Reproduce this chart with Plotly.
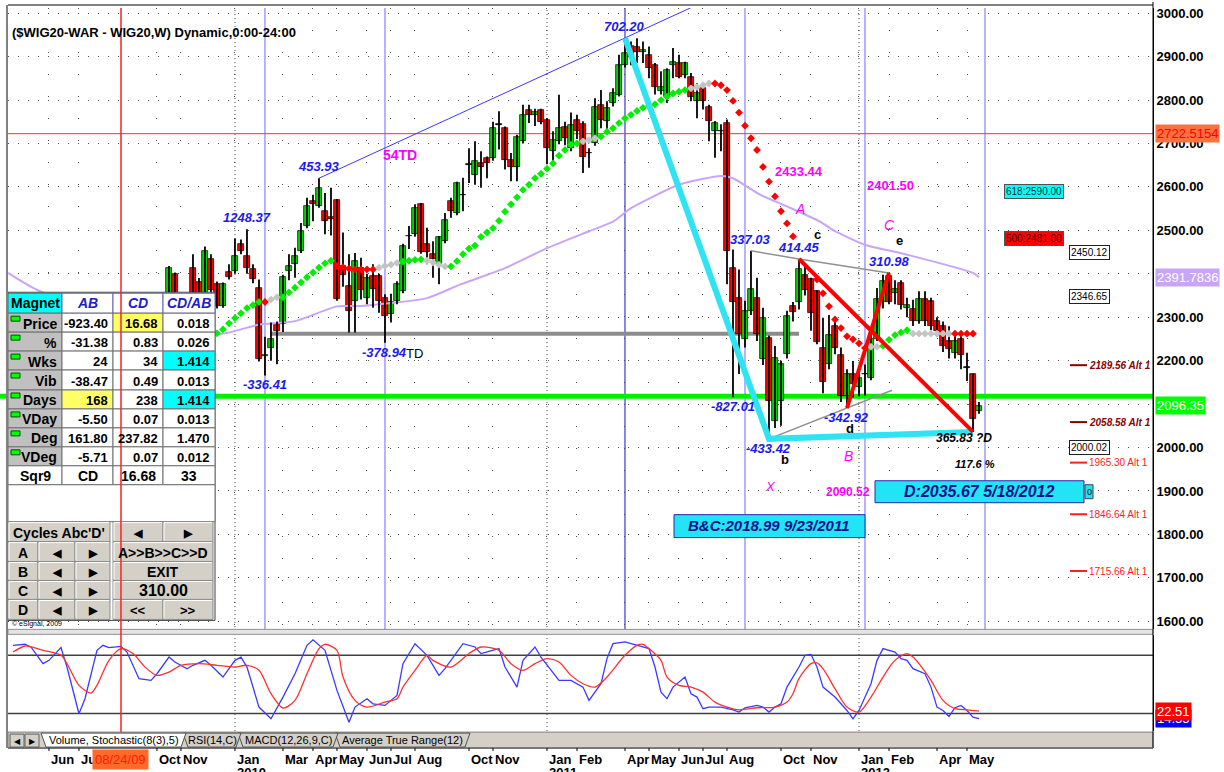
import numpy as np
import pandas as pd
import plotly.graph_objects as go

W, H = 1224, 772
FONT = "Liberation Sans, Arial, Helvetica, sans-serif"
BASE = pd.Timestamp("2010-01-04")

# ---------------- data ----------------
first_week = "2009-10-19"   # week index -11 (0 = week of 2010-01-04)
opens = [2340, 2399, 2330, 2300, 2414, 2380, 2345, 2433, 2376, 2326,
         2404, 2406, 2468, 2442, 2410, 2368, 2210, 2230, 2285, 2284,
         2406, 2422, 2452, 2510, 2567, 2556, 2544, 2530, 2569, 2418,
         2372, 2338, 2414, 2345, 2395, 2395, 2345, 2307, 2338, 2360,
         2486, 2491, 2560, 2468, 2446, 2422, 2475, 2567, 2540, 2581,
         2651, 2628, 2655, 2667, 2667, 2744, 2735, 2663, 2647, 2705,
         2776, 2766, 2776, 2755, 2682, 2705, 2739, 2689, 2755, 2745,
         2677, 2701, 2789, 2751, 2793, 2812, 2881, 2925, 2923, 2910,
         2904, 2881, 2820, 2808, 2881, 2885, 2858, 2854, 2797, 2827,
         2785, 2728, 2729, 2747, 2414, 2345, 2250, 2315, 2345, 2204,
         2253, 2062, 2108, 2215, 2326, 2334, 2397, 2388, 2360, 2230,
         2192, 2279, 2214, 2119, 2169, 2140, 2169, 2161, 2249, 2335,
         2395, 2356, 2379, 2321, 2318, 2291, 2341, 2337, 2291, 2279,
         2245, 2218, 2249, 2185, 2169, 2084]
highs = [2418, 2403, 2352, 2356, 2445, 2390, 2463, 2445, 2382, 2380,
         2422, 2481, 2479, 2502.5, 2422, 2387, 2255, 2288, 2290, 2398,
         2445, 2460, 2517, 2575, 2582, 2620, 2586, 2598, 2572, 2495,
         2445, 2448, 2437, 2400, 2422, 2400, 2353, 2354, 2383, 2469,
         2510, 2560, 2563, 2506, 2475, 2487, 2540, 2575, 2612, 2621,
         2689, 2705, 2682, 2670, 2750, 2774, 2739, 2678, 2720, 2789,
         2789, 2780, 2780, 2758, 2728, 2812, 2750, 2771, 2766, 2751,
         2689, 2804, 2823, 2797, 2827, 2904, 2943, 2935, 2942, 2935,
         2923, 2885, 2866, 2873, 2920, 2904, 2888, 2862, 2839, 2831,
         2789, 2752, 2744, 2755, 2456, 2410, 2338, 2453, 2391, 2322,
         2258, 2234, 2200, 2315, 2335, 2434, 2422, 2391, 2362, 2299,
         2305, 2298, 2230, 2180, 2199, 2185, 2191, 2268, 2367, 2398,
         2402, 2385, 2385, 2345, 2340, 2360, 2360, 2345, 2300, 2290,
         2279, 2268, 2268, 2218, 2170, 2105]
lows = [2300, 2300, 2255, 2280, 2330, 2310, 2335, 2340, 2320, 2322,
        2387, 2400, 2445, 2400, 2378, 2198, 2166, 2200, 2192, 2266,
        2385, 2391, 2448, 2505, 2521, 2552, 2491, 2488, 2338, 2370,
        2265, 2265, 2341, 2330, 2322, 2310, 2241, 2288, 2330, 2355,
        2457, 2485, 2446, 2422, 2391, 2376, 2470, 2529, 2535, 2544,
        2609, 2605, 2598, 2620, 2660, 2686, 2640, 2613, 2613, 2700,
        2747, 2740, 2744, 2652, 2655, 2698, 2696, 2682, 2710, 2632,
        2644, 2695, 2735, 2724, 2785, 2808, 2875, 2880, 2885, 2885,
        2850, 2813, 2813, 2793, 2850, 2850, 2850, 2797, 2758, 2778,
        2705, 2667, 2682, 2376, 2116, 2169, 2230, 2305, 2245, 2190,
        2020, 2045, 2050, 2205, 2290, 2318, 2350, 2269, 2238, 2125,
        2180, 2215, 2105, 2091, 2115, 2118, 2120, 2155, 2245, 2320,
        2330, 2330, 2318, 2300, 2280, 2285, 2280, 2270, 2255, 2220,
        2205, 2205, 2180, 2153, 2036, 2078]
closes = [2414, 2330, 2290, 2350, 2345, 2330, 2452, 2362, 2326, 2376,
          2393, 2442, 2452, 2414, 2387, 2205, 2213, 2250, 2269, 2393,
          2418, 2441, 2498, 2556, 2560, 2598, 2521, 2527, 2341, 2397,
          2315, 2429, 2362, 2390, 2364, 2338, 2303, 2334, 2376, 2464,
          2487, 2552, 2450, 2450, 2433, 2484, 2525, 2544, 2609, 2582,
          2652, 2659, 2647, 2655, 2735, 2743, 2663, 2647, 2716, 2766,
          2766, 2772, 2750, 2689, 2709, 2735, 2712, 2743, 2728, 2670,
          2678, 2785, 2755, 2781, 2816, 2881, 2908, 2900, 2911, 2915,
          2873, 2831, 2831, 2869, 2888, 2854, 2885, 2808, 2816, 2797,
          2751, 2747, 2728, 2452, 2334, 2261, 2315, 2364, 2261, 2298,
          2108, 2207, 2192, 2303, 2311, 2410, 2362, 2310, 2244, 2150,
          2260, 2230, 2119, 2169, 2146, 2160, 2170, 2249, 2341, 2383,
          2335, 2364, 2329, 2329, 2291, 2341, 2291, 2279, 2268, 2233,
          2226, 2245, 2214, 2183, 2065, 2096.35]
FIRST_K = -11

# moving average (purple), read at week positions
ma_weeks = [-37.8, -32.5, -3.3, 4, 10, 17, 21, 32, 37.5, 45, 52, 59, 63, 66, 74, 81, 83,
            87.5, 92, 97.5, 100, 105, 112, 123, 124]
ma_vals = [2402, 2360, 2260, 2283, 2291, 2325, 2326, 2344, 2375, 2413, 2459, 2498, 2520, 2551,
           2605, 2625, 2620, 2582, 2555, 2520, 2498, 2467, 2444, 2402, 2391.78]

# trailing-stop dots
stop_weeks = list(range(-3, 94)) + list(range(97, 124))
stop_vals = [2263, 2272, 2286, 2298, 2309, 2321, 2328, 2335,
             2335,
             2341, 2346,
             2346, 2357, 2368, 2380, 2392, 2403, 2414, 2424, 2430,
             2418, 2415, 2412, 2410, 2410, 2410, 2410,
             2414, 2418, 2421, 2425,
             2428, 2430, 2432, 2433,
             2430, 2426, 2421, 2417,
             2417, 2429, 2445, 2458, 2465, 2485, 2495, 2505, 2522, 2543, 2560, 2576, 2593, 2605,
             2620, 2630, 2642, 2654, 2672, 2685, 2697, 2700,
             2705, 2708, 2712,
             2716, 2727, 2735, 2747, 2758, 2766, 2775, 2782, 2787, 2790, 2800, 2808, 2815, 2819, 2823,
             2827, 2830, 2834, 2838,
             2838, 2834, 2823, 2798, 2771, 2741, 2712, 2685, 2646, 2612, 2578, 2544, 2516, 2486,
             2387, 2355, 2325, 2295, 2275, 2256, 2249, 2240, 2229,
             2232, 2232,
             2234, 2248, 2259, 2265, 2270,
             2262, 2262, 2262, 2262, 2262, 2262, 2262,
             2262, 2262, 2262, 2262]
stop_state = list("GGGGGGGG" "R" "NN" "GGGGGGGGG" "RRRRRRR" "NNNN" "GGGG" "NNNN"
                  "GGGGGGGGGGGGGGGGGGGGGG" "NNN" "GGGGGGGGGGGGGGG" "NNNN" "RRRRRRRRRRRRRR"
                  "RRRRRRRRR" "NN" "GGGGG" "NNNNNNN" "RRRR")

# stochastic (%K blue, %D red)
stoch_k_weeks = [-37, -35, -34, -32, -31, -29, -28, -26, -25, -23, -22, -21, -19, -18, -16, -14, -13,
                 -11, -10, -8, -7, -5, -4, -2, 0, 1, 2, 4, 6, 8, 10, 12, 13, 15, 17, 19, 20, 22, 23,
                 25, 27, 28, 30, 32, 34, 35, 38, 40, 41, 44, 45, 47, 48, 50, 51, 54, 56, 58, 59, 61,
                 62, 63, 65, 67, 69, 70, 71, 72, 73, 75, 76, 77, 78, 79, 81, 83, 84, 85, 87, 88, 89,
                 90, 91, 92, 94, 95, 96, 97, 98, 100, 102, 103, 104, 106, 107, 108, 110, 111, 112,
                 113, 115, 116, 117, 118, 119, 120, 121, 122, 123, 124]
stoch_k_vals = [90.3, 91.4, 88.6, 71.4, 74.8, 88.0, 67.9, 19.7, 35.2, 85.2, 90.3, 88.0, 89.3, 83.4,
                55.9, 54.1, 61.0, 78.2, 73.1, 66.2, 69.7, 74.8, 69.7, 57.6, 74.8, 78.2, 67.9, 26.6,
                14.5, 36.9, 61.0, 90.3, 96.0, 85.2, 43.8, 11.0, 26.6, 35.2, 30.0, 28.3, 38.6, 71.4,
                92.0, 80.0, 59.3, 66.2, 92.0, 88.6, 81.8, 86.9, 67.9, 47.2, 74.8, 88.6, 78.2, 54.1,
                54.1, 47.2, 33.5, 50.7, 76.6, 92.0, 93.8, 90.3, 86.9, 67.9, 42.0, 35.2, 47.2, 57.6,
                40.4, 36.9, 24.9, 26.6, 26.6, 23.8, 21.4, 25.9, 28.3, 26.6, 21.4, 26.6, 30.0, 47.2,
                67.9, 80.0, 81.0, 67.9, 47.2, 36.9, 23.1, 14.5, 23.1, 50.7, 74.8, 86.9, 83.4, 76.6,
                74.8, 66.2, 61.0, 47.2, 26.6, 23.1, 16.9, 25.9, 28.3, 23.1, 16.2, 14.55]
stoch_d_weeks = [-37, -35, -34, -32, -29, -28, -26, -24, -23, -21, -19, -17, -15, -13, -11, -9, -6,
                 -3, 0, 2, 4, 6, 8, 10, 12, 14, 15, 17, 18, 20, 22, 25, 27, 28, 30, 32, 33, 36, 39,
                 41, 44, 46, 48, 50, 52, 54, 56, 58, 60, 62, 63, 65, 67, 68, 69, 71, 72, 74, 76, 78,
                 80, 82, 84, 87, 90, 92, 93, 94, 96, 97, 98, 100, 102, 104, 106, 108, 110, 112, 113,
                 114, 116, 118, 120, 122, 124]
stoch_d_vals = [83.4, 89.6, 88.6, 85.2, 80.0, 71.4, 49.0, 41.0, 49.0, 74.8, 86.9, 81.8, 67.9, 59.3,
                62.7, 69.7, 71.4, 69.7, 67.9, 69.7, 64.5, 40.4, 25.5, 33.5, 61.0, 86.9, 91.4, 85.2,
                57.6, 33.5, 26.6, 31.8, 35.2, 47.2, 64.5, 80.0, 74.8, 67.9, 81.8, 88.6, 85.2, 71.4,
                64.5, 71.4, 76.6, 73.1, 59.3, 50.7, 47.2, 57.6, 65.0, 80.0, 90.3, 91.4, 86.9, 74.8,
                57.6, 49.0, 47.2, 42.0, 31.7, 26.6, 23.8, 25.9, 26.6, 31.8, 40.4, 55.9, 71.4, 72.1,
                66.2, 45.6, 26.6, 21.4, 36.9, 57.6, 74.8, 81.8, 78.2, 71.4, 54.1, 33.5, 24.9, 23.8,
                22.51]
stoch_levels = [80, 20]

# pivots (week, high/low, label)
pivot_weeks = [2, 5, 14, 25, 65, 83, 86, 89, 94, 102, 109]
pivot_kinds = ["H", "L", "H", "L", "H", "L", "H", "L", "H", "L", "H"]
pivot_texts = ["1248.37", "-336.41", "453.93", "-378.94", "702.20", "-827.01", "337.03",
               "-433.42", "414.45", "-342.92", "310.98"]

# horizontal levels
level_red = 2722.5154
level_green = 2118
level_gray = 2262
gray_from_week, gray_to_week = 6, 94
fib_texts = ["618:2590.00", "500:2481.00"]
fib_levels = [2590.00, 2481.00]
box_levels = [2450.12, 2346.65, 2000.02]
alt_levels = [2189.56, 2058.58, 1965.30, 1846.64, 1715.66]
last_close_label = "2096.35"
ma_label = "2391.7836"
stoch_labels = ["14.55", "22.51"]

# time markers
cursor_date = "2009-08-24"
cycle_weeks = [5, 25, 65, 85, 105, 125]
year_dates = ["2010-01-04", "2011-01-03", "2012-01-02"]
year_texts = ["2010", "2011", "2012"]
month_dates = ["2009-06-01", "2009-07-06", "2009-10-05", "2009-11-02", "2010-01-04", "2010-03-01",
               "2010-04-05", "2010-05-03", "2010-06-07", "2010-07-05", "2010-08-02", "2010-10-04",
               "2010-11-01", "2011-01-03", "2011-02-07", "2011-04-04", "2011-05-02", "2011-06-06",
               "2011-07-04", "2011-08-01", "2011-10-03", "2011-11-07", "2012-01-02", "2012-02-06",
               "2012-04-02", "2012-05-07"]
month_texts = ["Jun", "Jul", "Oct", "Nov", "Jan", "Mar", "Apr", "May", "Jun", "Jul", "Aug", "Oct",
               "Nov", "Jan", "Feb", "Apr", "May", "Jun", "Jul", "Aug", "Oct", "Nov", "Jan", "Feb",
               "Apr", "May"]

# table
table_rows = ["Price", "%", "Wks", "Vib", "Days", "VDay", "Deg", "VDeg"]
col_ab = ["-923.40", "-31.38", "24", "-38.47", "168", "-5.50", "161.80", "-5.71"]
col_cd = ["16.68", "0.83", "34", "0.49", "238", "0.07", "237.82", "0.07"]
col_ratio = ["0.018", "0.026", "1.414", "0.013", "1.414", "0.013", "1.470", "0.012"]
sqr9_row = ["Sqr9", "CD", "16.68", "33"]


# ---------------- helpers ----------------
def wk(k):
    if np.ndim(k) == 0:
        return BASE + pd.Timedelta(days=7 * float(k))
    return BASE + pd.to_timedelta(np.asarray(k, dtype=float) * 7, unit="D")


def PX(x):
    return x / W


def PY(y):
    return 1 - y / H


shapes, anns = [], []


def rect_px(x0, y0, x1, y1, fill, line="#808080", lw=1, layer="above"):
    shapes.append(dict(type="rect", xref="paper", yref="paper", x0=PX(x0), x1=PX(x1),
                       y0=PY(y1), y1=PY(y0), fillcolor=fill,
                       line=dict(color=line, width=lw), layer=layer))


def line_px(x0, y0, x1, y1, color, lw=1, dash="solid", layer="above"):
    shapes.append(dict(type="line", xref="paper", yref="paper", x0=PX(x0), x1=PX(x1),
                       y0=PY(y0), y1=PY(y1), line=dict(color=color, width=lw, dash=dash),
                       layer=layer))


def T(x, y, s, size=12, color="black", xa="center", ya="middle", b=True, i=False, bg=None,
      xref="paper", yref="paper", border=None, pad=1, yshift=0):
    txt = s
    if i:
        txt = "<i>" + txt + "</i>"
    if b:
        txt = "<b>" + txt + "</b>"
    a = dict(x=PX(x) if xref == "paper" else x, y=PY(y) if yref == "paper" else y,
             xref=xref, yref=yref, text=txt, showarrow=False, xanchor=xa, yanchor=ya,
             font=dict(family=FONT, size=size, color=color), borderpad=pad, yshift=yshift)
    if bg:
        a["bgcolor"] = bg
    if border:
        a["bordercolor"] = border
        a["borderwidth"] = 1
    anns.append(a)


def TY(xpix, v, s, yref="y", **kw):
    """text at a pixel x and a data y"""
    T(0, 0, s, yref=yref, **kw)
    anns[-1]["x"] = PX(xpix)
    anns[-1]["y"] = v


# ---------------- traces ----------------
o = np.array(opens, float)
hi = np.array(highs, float)
lo = np.array(lows, float)
cl = np.array(closes, float)
cdates = pd.date_range(first_week, periods=len(opens), freq="7D")


def piv(k, kind):
    i = k - FIRST_K
    return hi[i] if kind == "H" else lo[i]


fig = go.Figure()

fig.add_trace(go.Scatter(x=wk(ma_weeks), y=ma_vals, mode="lines",
                         line=dict(color="#c9a5f7", width=2, shape="spline", smoothing=0.6),
                         hoverinfo="skip"))

# thin blue trendline through the two highs, extended
k_a, k_b, k_end = 14, 65, 80
ya, yb = piv(k_a, "H"), piv(k_b, "H")
fig.add_trace(go.Scatter(x=wk([k_a, k_end]), y=[ya, ya + (yb - ya) / (k_b - k_a) * (k_end - k_a)],
                         mode="lines", line=dict(color="#3a3aff", width=1), hoverinfo="skip"))

wx, wy = [], []
for d, a, b in zip(cdates, lo, hi):
    wx += [d, d, None]
    wy += [a, b, None]
fig.add_trace(go.Scatter(x=wx, y=wy, mode="lines", line=dict(color="black", width=1.8),
                         hoverinfo="skip"))
body_base = np.minimum(o, cl)
body_len = np.maximum(np.abs(cl - o), 1.2)
body_col = np.where(cl > o + 2, "#00d400", np.where(cl < o - 2, "#ff0000", "#000000"))
fig.add_trace(go.Bar(x=cdates, y=body_len, base=body_base, width=6.2 * 86400000,
                     marker=dict(color=[str(c) for c in body_col],
                                 line=dict(color="black", width=0.7)),
                     hoverinfo="skip"))

stop_col = {"G": "#00ee00", "R": "#ff0000", "N": "#c4c4c4"}
fig.add_trace(go.Scatter(x=wk(stop_weeks), y=stop_vals, mode="markers",
                         marker=dict(symbol="diamond", size=6,
                                     color=[stop_col[s] for s in stop_state],
                                     line=dict(width=0)), hoverinfo="skip"))

# gray thin swing lines
gx = [wk(86), wk(94), wk(109), None, wk(89), wk(109.5)]
slope_bd = (piv(102, "L") - piv(89, "L")) / (102 - 89)
gy = [piv(86, "H"), piv(94, "H"), piv(109, "H"), None, piv(89, "L"),
      piv(89, "L") + slope_bd * (109.5 - 89)]
fig.add_trace(go.Scatter(x=gx, y=gy, mode="lines", line=dict(color="#909090", width=1.5),
                         hoverinfo="skip"))

# cyan X-B-D and red C-D / d-e legs
fig.add_trace(go.Scatter(x=wk([65, 89, 123]), y=[piv(65, "H"), piv(89, "L"), piv(123, "L")],
                         mode="lines", line=dict(color="#2fe3f3", width=6), hoverinfo="skip"))
fig.add_trace(go.Scatter(x=[wk(94), wk(123), None, wk(102), wk(109)],
                         y=[piv(94, "H"), piv(123, "L"), None, piv(102, "L"), piv(109, "H")],
                         mode="lines", line=dict(color="#ff0000", width=4), hoverinfo="skip"))

# stochastic
fig.add_trace(go.Scatter(x=wk(stoch_k_weeks), y=stoch_k_vals, mode="lines",
                         line=dict(color="#3a3aff", width=1.3), xaxis="x2", yaxis="y2",
                         hoverinfo="skip"))
fig.add_trace(go.Scatter(x=wk(stoch_d_weeks), y=stoch_d_vals, mode="lines",
                         line=dict(color="#ff3030", width=1.3, shape="spline", smoothing=0.8),
                         xaxis="x2", yaxis="y2", hoverinfo="skip"))

# ---------------- shapes (below traces) ----------------
for d in year_dates:
    shapes.append(dict(type="line", xref="x", yref="paper", x0=d, x1=d, y0=PY(731), y1=PY(6),
                       line=dict(color="#404040", width=1, dash="1px,3px"), layer="below"))
for k in cycle_weeks:
    col = "#1010d0" if k == 65 else "#6a6aff"
    shapes.append(dict(type="line", xref="x", yref="paper", x0=wk(k), x1=wk(k), y0=PY(629),
                       y1=PY(6), line=dict(color=col, width=1), layer="below"))
shapes.append(dict(type="line", xref="paper", yref="y", x0=PX(8), x1=PX(1153), y0=level_red,
                   y1=level_red, line=dict(color="#ff3030", width=1), layer="below"))
shapes.append(dict(type="line", xref="paper", yref="y", x0=PX(0), x1=PX(1153), y0=level_green,
                   y1=level_green, line=dict(color="#00f000", width=5), layer="below"))
shapes.append(dict(type="line", xref="x", yref="y", x0=wk(gray_from_week), x1=wk(gray_to_week),
                   y0=level_gray, y1=level_gray, line=dict(color="#8c8c8c", width=4),
                   layer="below"))
for v in stoch_levels:
    shapes.append(dict(type="line", xref="paper", yref="y2", x0=PX(8), x1=PX(1153), y0=v, y1=v,
                       line=dict(color="#404040", width=1.5), layer="below"))

# ---------------- table (above traces) ----------------
COLX = [8, 62, 113, 163, 215]
ROWY = [292, 312, 331, 350, 369, 389, 408, 427, 446, 465, 484]
rect_px(8, 291, 215, 620, "white", line="#404040", lw=1)
rect_px(COLX[0], ROWY[0], COLX[1], ROWY[1], "#00ffff", line="#606060")
T(35, 302, "Magnet", size=14)
for j, h in enumerate(["AB", "CD", "CD/AB"]):
    rect_px(COLX[j + 1], ROWY[0], COLX[j + 2], ROWY[1], "white", line="#6060b0")
    T((COLX[j + 1] + COLX[j + 2]) / 2, 302, h, size=14, color="#2020c8", i=True)
highlight = {(0, 1): "#ffff66", (2, 2): "#00ffff", (4, 0): "#ffff66", (4, 2): "#00ffff"}
for r, name in enumerate(table_rows):
    y0, y1 = ROWY[r + 1], ROWY[r + 2]
    ym = (y0 + y1) / 2
    rect_px(COLX[0], y0, COLX[1], y1, "#c0c0c0", line="#707070")
    rect_px(11, y0 + 3, 20, y0 + 8, "#00ff00", line="#005000")
    T(59, ym + 1, name, size=14, xa="right")
    for j, colvals in enumerate([col_ab, col_cd, col_ratio]):
        rect_px(COLX[j + 1], y0, COLX[j + 2], y1, highlight.get((r, j), "white"), line="#707070")
        T(COLX[j + 2] - 3, ym + 1, colvals[r], size=13, xa="right")
for j, s in enumerate(sqr9_row):
    rect_px(COLX[j], ROWY[9], COLX[j + 1], ROWY[10], "white", line="#707070")
    T((COLX[j] + COLX[j + 1]) / 2, (ROWY[9] + ROWY[10]) / 2 + 1, s, size=14)
rect_px(8, 484, 215, 521, "white", line="#707070")

BTN = "#d4d0c8"


def btn(x0, y0, x1, y1, s, size=14):
    rect_px(x0, y0, x1, y1, BTN, line="#8a8a8a")
    line_px(x0 + 1, y0 + 1, x1 - 1, y0 + 1, "white", 1)
    line_px(x0 + 1, y0 + 1, x0 + 1, y1 - 1, "white", 1)
    T((x0 + x1) / 2, (y0 + y1) / 2 + 1, s, size=size)


btn(8, 521, 110, 541, "Cycles Abc'D'")
btn(113, 521, 163, 541, "◀", 11)
btn(163, 521, 213, 541, "▶", 11)
right_btns = ["A&gt;&gt;B&gt;&gt;C&gt;&gt;D", "EXIT", "310.00"]
for r, letter in enumerate(["A", "B", "C", "D"]):
    y0 = [541, 561, 580, 599][r]
    y1 = [561, 580, 599, 619][r]
    btn(8, y0, 38, y1, letter)
    btn(38, y0, 75, y1, "◀", 11)
    btn(75, y0, 110, y1, "▶", 11)
    if r < 3:
        btn(113, y0, 213, y1, right_btns[r], 16 if r == 2 else 14)
    else:
        btn(113, y0, 163, y1, "&lt;&lt;", 13)
        btn(163, y0, 213, y1, "&gt;&gt;", 13)
T(10, 624, "© eSignal, 2009", size=7, xa="left", b=False)

# ---------------- separators, tab bar, borders ----------------
rect_px(8, 629, 1153, 634, "#e4e4e4", line="#909090", lw=1)
rect_px(8, 732, 1153, 748, "#d4d0c8", line="#808080", lw=1)
rect_px(10, 734, 24, 747, "#d4d0c8", line="#606060")
rect_px(25, 734, 39, 747, "#d4d0c8", line="#606060")
T(17, 741, "◀", size=8, b=False)
T(32, 741, "▶", size=8, b=False)
tabs = [("Volume, Stochastic(8(3),5)", 41, 186, "white"), ("RSI(14,C)", 183, 241, "#d4d0c8"),
        ("MACD(12,26,9,C)", 238, 338, "#d4d0c8"), ("Average True Range(12)", 335, 470, "#d4d0c8")]
for name, x0, x1, fill in tabs[::-1]:
    path = "M {} {} L {} {} L {} {} L {} {} Z".format(PX(x0), PY(733), PX(x0 + 5), PY(747),
                                                      PX(x1 - 5), PY(747), PX(x1), PY(733))
    shapes.append(dict(type="path", xref="paper", yref="paper", path=path, fillcolor=fill,
                       line=dict(color="#505050", width=1), layer="above"))
    T((x0 + x1) / 2, 740, name, size=11, b=False)
line_px(8, 3, 1153, 3, "#808080", 2)
line_px(7, 3, 7, 748, "#808080", 2)
line_px(1153, 0, 1153, 748, "black", 1)
line_px(8, 748, 1153, 748, "#404040", 1)

# cursor line (over the table)
shapes.append(dict(type="line", xref="x", yref="paper", x0=cursor_date, x1=cursor_date,
                   y0=PY(732), y1=PY(6), line=dict(color="#ff2020", width=1.5), layer="above"))

# ---------------- right-side level labels ----------------
for s, v, fill, fc in zip(fib_texts, fib_levels, ["#00ffff", "#ff0000"], ["#003030", "#400000"]):
    TY(1034, v, s, size=10, b=False, color=fc, bg=fill, border="#505050", pad=1)
for v in box_levels:
    TY(1089, v, "{:.2f}".format(v), size=10, b=False, bg="white", border="#202020", pad=1)
alt_styles = [("#8b0000", True), ("#8b0000", True), ("#ff2020", False), ("#ff2020", False),
              ("#ff2020", False)]
for v, (colr, strong) in zip(alt_levels, alt_styles):
    shapes.append(dict(type="line", xref="paper", yref="y", x0=PX(1070), x1=PX(1087), y0=v, y1=v,
                       line=dict(color=colr, width=2), layer="above"))
    TY(1088, v, "{:.2f} Alt 1".format(v), size=10, color=colr, b=strong, i=strong, xa="left",
       pad=0)

# axis value boxes
TY(1155, level_red, "2722.5154", size=13, color="#ff0000", bg="#ff7040", xa="left", pad=1,
   b=False)
TY(1155, ma_vals[-1], ma_label, size=13, color="white", bg="#c9a5f7", xa="left", pad=1, b=False)
TY(1155, closes[-1], last_close_label, size=13, color="white", bg="#00ff00", xa="left", pad=1,
   b=False)
for s, v, bgc in zip(stoch_labels, [stoch_k_vals[-1], stoch_d_vals[-1]], ["#0000ff", "#ff0000"]):
    TY(1155, v, s, yref="y2", size=13, color="white", bg=bgc, xa="left", pad=1, b=False)

# ---------------- pivot labels ----------------
for k, kind, s in zip(pivot_weeks, pivot_kinds, pivot_texts):
    anns.append(dict(x=wk(k), y=piv(k, kind), xref="x", yref="y", showarrow=False,
                     text="<b><i>" + s + "</i></b>", xanchor="center",
                     yanchor="bottom" if kind == "H" else "top", yshift=2 if kind == "H" else 0,
                     font=dict(family=FONT, size=13, color="#1a1aee")))

# other chart texts
MAG = "#ff00ff"
T(400, 153, "54TD", size=14, color=MAG)
T(414, 352, "TD", size=13, color="black", b=False)
T(799, 170, "2433.44", size=13, color=MAG)
T(800, 208, "A", size=14, color=MAG, b=False, i=True)
T(890, 184, "2401.50", size=13, color=MAG)
T(889, 224, "C", size=14, color=MAG, b=False, i=True)
T(848, 455, "B", size=14, color=MAG, b=False, i=True)
T(770, 486, "X", size=13, color=MAG, b=False, i=True)
T(848, 491, "2090.52", size=12, color=MAG)
T(817, 233, "c", size=13)
T(899, 239, "e", size=13)
T(850, 428, "d", size=13)
T(785, 459, "b", size=13)
T(964, 437, "365.83 ?D", size=12, i=True)
T(975, 463, "117.6 %", size=11, i=True)
T(10, 31, "($WIG20-WAR - WIG20,W) Dynamic,0:00-24:00", size=13, xa="left")

rect_px(875, 480, 1084, 502, "#22e4f4", line="#2828b0", lw=1)
T(979, 491, "D:2035.67 5/18/2012", size=16, color="#10108a", i=True)
rect_px(1085, 484, 1093, 498, "#22e4f4", line="#404040", lw=1)
T(1089, 491, "0", size=9, b=False)
rect_px(674, 514, 865, 537, "#22e4f4", line="#2828b0", lw=1)
T(769, 525, "B&amp;C:2018.99 9/23/2011", size=15, color="#10108a", i=True)

# ---------------- time axis labels ----------------
for d, s in zip(month_dates, month_texts):
    anns.append(dict(x=d, y=PY(759), xref="x", yref="paper", text="<b>" + s + "</b>",
                     showarrow=False, xanchor="left", yanchor="middle",
                     font=dict(family=FONT, size=13, color="black")))
    shapes.append(dict(type="line", xref="x", yref="paper", x0=d, x1=d, y0=PY(748), y1=PY(751),
                       line=dict(color="black", width=1), layer="above"))
for d, s in zip(year_dates, year_texts):
    anns.append(dict(x=d, y=PY(772), xref="x", yref="paper", text="<b>" + s + "</b>",
                     showarrow=False, xanchor="left", yanchor="middle",
                     font=dict(family=FONT, size=13, color="black")))
anns.append(dict(x=cursor_date, y=PY(759), xref="x", yref="paper", text="08/24/09",
                 showarrow=False, xanchor="center", yanchor="middle", bgcolor="#ff6a2a",
                 borderpad=2, font=dict(family=FONT, size=13, color="#ff1a00")))

# ---------------- layout ----------------
fig.update_layout(
    width=W, height=H, margin=dict(l=0, r=0, t=0, b=0),
    paper_bgcolor="white", plot_bgcolor="white", showlegend=False, hovermode=False,
    barmode="overlay", bargap=0,
    xaxis=dict(domain=[PX(8), PX(1153)], type="date", range=[str(wk(-37.83)), str(wk(153))],
               showticklabels=False, showgrid=True, gridcolor="#505050", griddash="1px,21px",
               gridwidth=1, tickmode="array", tickvals=month_dates, ticks="", zeroline=False,
               showline=False, anchor="y", fixedrange=True),
    yaxis=dict(domain=[PY(629), PY(6)], range=[1581.4, 3011.9], side="right", tickmode="linear",
               tick0=0, dtick=100, tickformat=".2f",
               tickfont=dict(family=FONT, size=13, color="black", weight="bold"),
               showgrid=True, gridcolor="#505050", griddash="1px,9px", zeroline=False,
               showline=True, linecolor="black", linewidth=1, ticks="", anchor="x",
               fixedrange=True),
    xaxis2=dict(domain=[PX(8), PX(1153)], type="date", matches="x", anchor="y2",
                showticklabels=False, showgrid=False, zeroline=False, showline=False),
    yaxis2=dict(domain=[PY(731), PY(635)], range=[1.8, 100.6], side="right",
                showticklabels=False, showgrid=False, zeroline=False, showline=True,
                linecolor="black", anchor="x2", fixedrange=True),
    shapes=shapes, annotations=anns,
)

fig.write_html("out.html", config={"displayModeBar": False},
               post_script="document.body.style.margin='0px';"
                           "document.body.style.overflow='hidden';")
